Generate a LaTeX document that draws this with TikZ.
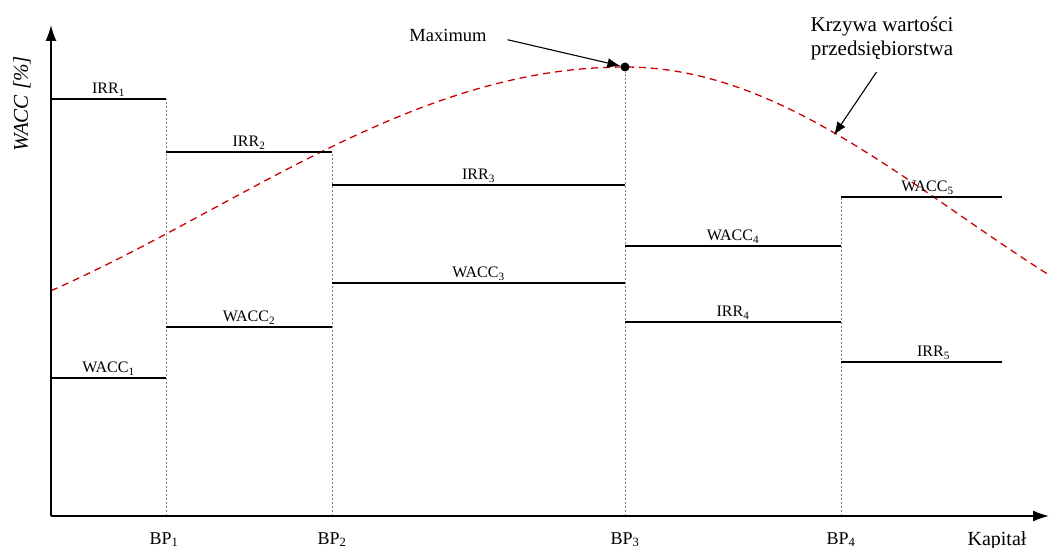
\documentclass[tikz,border=0pt]{standalone}
\usepackage{fontspec}
\setmainfont{Liberation Serif}
\usetikzlibrary{arrows.meta}

\begin{document}
\begin{tikzpicture}[x=1pt,y=-1pt,
    axis/.style={line width=1.6pt,-{Latex[length=16pt,width=11pt]}},
    thinstep/.style={line width=1.1pt},
    thickstep/.style={line width=1.7pt},
    guide/.style={draw=gray,line width=0.6pt,dash pattern=on 2pt off 2pt},
    valuecurve/.style={draw=red!80!black,line width=1.3pt,dash pattern=on 7pt off 5pt},
    pointer/.style={line width=1.1pt,-{Latex[length=13pt,width=10pt]}},
    lbl/.style={font=\fontsize{16}{19}\selectfont,inner sep=2pt},
    bplbl/.style={font=\fontsize{18}{21}\selectfont,anchor=base}]
    \useasboundingbox (0,0) rectangle (1049,548);
    % value curve
    \draw[valuecurve] plot[domain=51:625,samples=80] (\x,{67+141.6*(1-cos(deg(0.00381*(625-\x))))})
        -- plot[domain=625:1049,samples=80] (\x,{67+146.9*(1-cos(deg(0.00472*(\x-625))))});
    \node[circle,fill,inner sep=0pt,minimum size=9pt] (peak) at (625,67) {};
    \coordinate (hit) at (834,135);
    % break points
    \draw[guide] (166,516) -- (166,99);
    \draw[guide] (332,516) -- (332,152);
    \draw[guide] (625,516) -- (peak);
    \draw[guide] (841,516) -- (841,197);
    % IRR steps
    \draw[thinstep] (51,99) -- node[lbl,above] (irr1) {IRR\textsubscript{1}} (166,99);
    \draw[thinstep] (166,152) -- node[lbl,above] (irr2) {IRR\textsubscript{2}} (332,152);
    \draw[thinstep] (332,185) -- node[lbl,above] (irr3) {IRR\textsubscript{3}} (625,185);
    \draw[thickstep] (625,322) -- node[lbl,above] (irr4) {IRR\textsubscript{4}} (841,322);
    \draw[thickstep] (841,362) -- node[lbl,above,xshift=12pt] (irr5) {IRR\textsubscript{5}} (1002,362);
    % WACC steps
    \draw[thickstep] (51,378) -- node[lbl,above] (wacc1) {WACC\textsubscript{1}} (166,378);
    \draw[thickstep] (166,327) -- node[lbl,above] (wacc2) {WACC\textsubscript{2}} (332,327);
    \draw[thickstep] (332,283) -- node[lbl,above] (wacc3) {WACC\textsubscript{3}} (625,283);
    \draw[thickstep] (625,246) -- node[lbl,above] (wacc4) {WACC\textsubscript{4}} (841,246);
    \draw[thickstep] (841,197) -- node[lbl,above,xshift=6pt] (wacc5) {WACC\textsubscript{5}} (1002,197);
    % axes
    \draw[axis] (51,516) -- (51,25);
    \draw[axis] (51,516) -- (1049,516);
    \node[rotate=90,font=\itshape\fontsize{21}{24}\selectfont] (ylbl) at (22,104) {WACC [\%]};
    \node[bplbl] (bp1) at (164,544) {BP\textsubscript{1}};
    \node[bplbl] (bp2) at (332,544) {BP\textsubscript{2}};
    \node[bplbl] (bp3) at (625,544) {BP\textsubscript{3}};
    \node[bplbl] (bp4) at (841,544) {BP\textsubscript{4}};
    \node[bplbl,font=\fontsize{20}{24}\selectfont] (cap) at (997,545) {Kapitał};
    % annotations
    \node[font=\fontsize{18.5}{22}\selectfont,anchor=base] (maxlbl) at (448,41.7) {Maximum};
    \draw[pointer,shorten <=18pt] (maxlbl.east) -- (peak);
    \node[font=\fontsize{21}{24.6}\selectfont,align=center] (curvelbl) at (882,38.5) {Krzywa wartości\\przedsiębiorstwa};
    \draw[pointer,shorten <=10pt] (curvelbl.south) -- (hit);
\end{tikzpicture}
\end{document}
